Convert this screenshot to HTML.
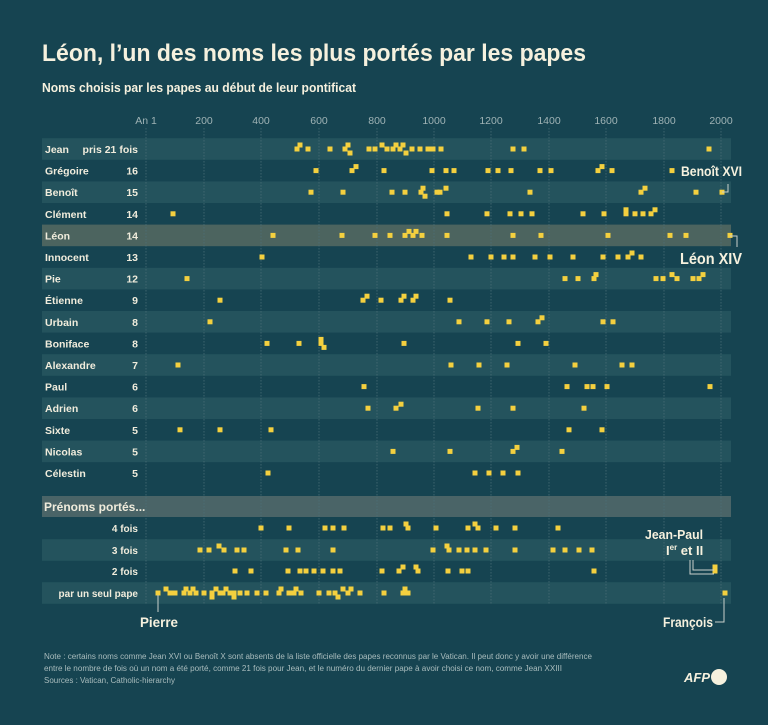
<!DOCTYPE html>
<html><head><meta charset="utf-8"><style>
html,body{margin:0;padding:0;background:#164451;}
svg{display:block}
text{font-family:"Liberation Sans",sans-serif;}
</style></head><body>
<svg id="s" width="768" height="725" viewBox="0 0 768 725" xmlns="http://www.w3.org/2000/svg">
<rect width="768" height="725" fill="#164451"/>
<text x="42" y="61" font-size="24" font-weight="bold" fill="#f6f1de" textLength="544" lengthAdjust="spacingAndGlyphs">Léon, l’un des noms les plus portés par les papes</text>
<text x="42" y="92" font-size="13" font-weight="bold" fill="#f6f1de" textLength="314" lengthAdjust="spacingAndGlyphs">Noms choisis par les papes au début de leur pontificat</text>
<g id="bands"></g>
<g id="grid"></g>
<g id="labels" font-size="10.5" font-weight="bold" fill="#f0ecdc"></g>
<g id="dots" fill="#f4d03f"></g>
<g font-weight="bold" fill="#f6f1de">
<text x="681" y="176" font-size="14" textLength="61" lengthAdjust="spacingAndGlyphs">Benoît XVI</text>
<text x="680" y="264" font-size="16" textLength="62" lengthAdjust="spacingAndGlyphs">Léon XIV</text>
<text x="645" y="539" font-size="13" textLength="58" lengthAdjust="spacingAndGlyphs">Jean-Paul</text>
<text x="666" y="555" font-size="13">I<tspan font-size="8" dy="-5">er</tspan><tspan dy="5"> et II</tspan></text>
<text x="140" y="627" font-size="14" textLength="38" lengthAdjust="spacingAndGlyphs">Pierre</text>
<text x="663" y="627" font-size="14" textLength="50" lengthAdjust="spacingAndGlyphs">François</text>
</g>
<g stroke="#c9d0cc" stroke-width="1" fill="none">
<polyline points="722,192 728,192 728,184"/>
<polyline points="730,236 737,236 737,247"/>
<polyline points="158,595 158,612"/>
<polyline points="690,560 690,574 714,574"/>
<polyline points="693,560 693,570 714,570"/>
<polyline points="715,622 724,622 724,598"/>
</g>
<g font-size="8" fill="#a9bcbd">
<text x="44" y="659" textLength="548" lengthAdjust="spacingAndGlyphs">Note : certains noms comme Jean XVI ou Benoît X sont absents de la liste officielle des papes reconnus par le Vatican. Il peut donc y avoir une différence</text>
<text x="44" y="671" textLength="518" lengthAdjust="spacingAndGlyphs">entre le nombre de fois où un nom a été porté, comme 21 fois pour Jean, et le numéro du dernier pape à avoir choisi ce nom, comme Jean XXIII</text>
<text x="44" y="683" textLength="131" lengthAdjust="spacingAndGlyphs">Sources : Vatican, Catholic-hierarchy</text>
</g>
<text x="684" y="682" font-size="13" font-weight="bold" font-style="italic" fill="#f6f1de">AFP</text>
<circle cx="719" cy="677" r="8" fill="#f6f1de"/>
</svg>
<script>
var NS="http://www.w3.org/2000/svg";
function el(p,t,a,txt){var e=document.createElementNS(NS,t);for(var k in a)e.setAttribute(k,a[k]);if(txt!=null)e.textContent=txt;document.getElementById(p).appendChild(e);return e;}
var names=[["Jean","pris 21 fois"],["Grégoire","16"],["Benoît","15"],["Clément","14"],["Léon","14"],["Innocent","13"],["Pie","12"],["Étienne","9"],["Urbain","8"],["Boniface","8"],["Alexandre","7"],["Paul","6"],["Adrien","6"],["Sixte","5"],["Nicolas","5"],["Célestin","5"]];
var data=[
"297 300u 308 330 345 348u 350d 369 375 382u 387 393 396u 400 403u 406d 412 420 428 433 441 513 524 709",
"316 352 356u 384 432 446 454 488 498 511 540 551 598 602u 612 672",
"311 343 392 405 421 423u 425d 437 440 446u 530 641 645u 696 722",
"173 447 487 510 521 532 583 604 626 626u 635 643 651 655u",
"273 342 375 390 405 409u 413 416u 422 447 513 541 608 670 686 730",
"262 471 491 504 513 535 550 573 603 618 628 632u 641",
"187 565 578 594 596u 656 663 672u 677 693 699 703u",
"220 363 367u 381 401 404u 413 416u 450",
"210 459 487 509 538 542u 603 613",
"267 299 321u 321 324d 404 518 546",
"178 451 479 507 575 622 632",
"364 567 587 593 607 710",
"368 396 401u 478 513 584",
"180 220 271 569 602",
"393 450 513 517u 562",
"268 475 489 503 518"];
var y0=149,dy=21.6;
for(var i=0;i<16;i++){var y=y0+i*dy-10.8;
 var c=(i==4)?"#4c645f":(i%2==0?"#24535d":null);
 if(c)el("bands","rect",{x:42,y:y,width:689,height:dy,fill:c});}
el("bands","rect",{x:42,y:496,width:689,height:21,fill:"#4a6467"});
var by=[528,550,571,593];
for(var i=0;i<4;i++){if(i%2==1)el("bands","rect",{x:42,y:by[i]-10.8,width:689,height:dy,fill:"#24535d"});}
var ticks=[[146,"An 1"],[204,"200"],[261,"400"],[319,"600"],[377,"800"],[434,"1000"],[491,"1200"],[549,"1400"],[606,"1600"],[664,"1800"],[721,"2000"]];
ticks.forEach(function(t){el("grid","line",{x1:t[0],y1:128,x2:t[0],y2:605,stroke:"#4d7079","stroke-width":0.7,"stroke-dasharray":"1.5,1.5"});
 el("grid","text",{x:t[0],y:124,"font-size":10.5,fill:"#9fb3b5","text-anchor":"middle"},t[1]);});
el("bands","text",{x:44,y:511,"font-size":12,"font-weight":"bold",fill:"#f0ecdc"},"Prénoms portés...");
names.forEach(function(n,i){var y=y0+i*dy+4;
 el("labels","text",{x:45,y:y},n[0]);
 el("labels","text",{x:138,y:y,"text-anchor":"end"},n[1]);});
var bl=["4 fois","3 fois","2 fois","par un seul pape"];
bl.forEach(function(n,i){el("labels","text",{x:138,y:by[i]+4,"text-anchor":"end","font-size":10},n);});
function draw(str,y){str.split(" ").forEach(function(s){var off=0;if(s.slice(-1)=="u"){off=-4;s=s.slice(0,-1);}else if(s.slice(-1)=="d"){off=4;s=s.slice(0,-1);}
 el("dots","rect",{x:+s-2.5,y:y+off-2.5,width:5,height:5});});}
data.forEach(function(d,i){draw(d,y0+i*dy);});
var bd=[
"261 289 325 333 344 383 390 406u 408 436 468 475u 478 496 515 558",
"200 209 219u 224 237 244 286 298 333 433 447u 449 459 467 475 486 515 553 565 579 592",
"235 251 288 300 306 314 323 333 340 382 399 403u 416u 418 448 462 468 594 715u 715",
"158 166u 170 175 184 186u 190 193u 196 204 212 212d 216u 220 223 226u 230 234d 234 240 247 257 266 279 281u 289 294 296u 301 319 329 335 338d 343u 348 351u 360 384 403 405u 408 725"];
bd.forEach(function(d,i){draw(d,by[i]);});
</script>
</body></html>
